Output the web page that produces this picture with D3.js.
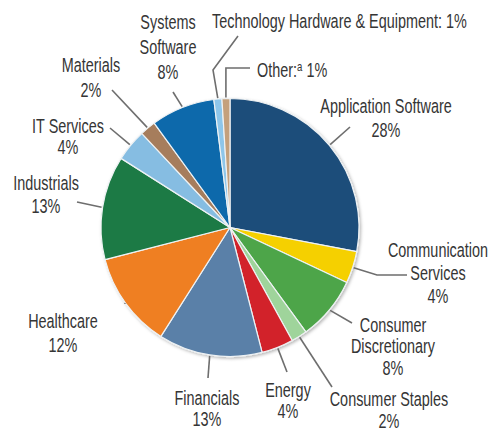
<!DOCTYPE html>
<html>
<head>
<meta charset="utf-8">
<script src="https://cdn.jsdelivr.net/npm/d3@7"></script>
<style>
  html, body { margin: 0; padding: 0; background: #fff; }
  svg { display: block; }
  .lbl { font-family: "Liberation Sans", Arial, sans-serif; font-size: 19.5px; fill: #353535; }
  .leader { fill: none; stroke: #6e6e6e; stroke-width: 1.6; }
</style>
</head>
<body>
<svg id="chart" width="494" height="433"></svg>
<script>
// Sector weights (%), clockwise from 12 o'clock
const sectors = [
  "Application Software", "Communication Services", "Consumer Discretionary",
  "Consumer Staples", "Energy", "Financials", "Healthcare", "Industrials",
  "IT Services", "Materials", "Systems Software",
  "Technology Hardware & Equipment", "Other"
];
const shares = [28, 4, 8, 2, 4, 13, 12, 13, 4, 2, 8, 1, 1];
const colors = [
  "#1f4e7a", "#f5d000", "#4ea54a", "#9fd49b", "#d2232a", "#5a80a8",
  "#ef7f22", "#1b7a44", "#86bde2", "#a67d5b", "#0c69ab", "#8ec6ea", "#c4a07c"
];
// Label text lines per sector ("{v}" is replaced by the share)
const labelLines = [
  ["Application Software", "{v}%"],
  ["Communication", "Services", "{v}%"],
  ["Consumer", "Discretionary", "{v}%"],
  ["Consumer Staples", "{v}%"],
  ["Energy", "{v}%"],
  ["Financials", "{v}%"],
  ["Healthcare", "{v}%"],
  ["Industrials", "{v}%"],
  ["IT Services", "{v}%"],
  ["Materials", "{v}%"],
  ["Systems", "Software", "{v}%"],
  ["Technology Hardware & Equipment: {v}%"],
  ["Other:ª {v}%"]
];

const svg = d3.select("#chart");
const cx = 230, cy = 227.5, R = 129;
const narrow = 0.74; // horizontal squeeze for a condensed look

const defs = svg.append("defs");
const f = defs.append("filter").attr("id", "shadow")
  .attr("x", "-10%").attr("y", "-10%").attr("width", "120%").attr("height", "120%");
f.append("feDropShadow").attr("dx", 1.5).attr("dy", 1.5).attr("stdDeviation", 1.8)
  .attr("flood-color", "#000").attr("flood-opacity", 0.28);

const pie = d3.pie().sort(null).value(d => d.v);
const data = sectors.map((s, i) => ({ name: s, v: shares[i], color: colors[i], lines: labelLines[i] }));
const arcs = pie(data);
const arc = d3.arc().innerRadius(0).outerRadius(R);

const g = svg.append("g").attr("transform", `translate(${cx},${cy})`);
g.append("g").attr("filter", "url(#shadow)")
  .selectAll("path").data(arcs).join("path")
  .attr("d", arc)
  .attr("fill", d => d.data.color)
  .attr("stroke", "#eef2f4")
  .attr("stroke-width", 1.2)
  .attr("stroke-linejoin", "round");

// Label placement: first baseline of the text block and leader route
const layout = [
  { x: 386, y: 113, lh: 24, anchor: "middle", leader: (p) => [p, [350, 127]] },
  { x: 438, y: 257, lh: 23, anchor: "middle", leader: (p) => [p, [377, 275], [407, 275]] },
  { x: 393, y: 332, lh: 21.5, anchor: "middle", leader: (p) => [p, [352, 323]] },
  { x: 389, y: 406, lh: 22, anchor: "middle", leader: (p) => [p, [332, 387]] },
  { x: 288, y: 397, lh: 21, anchor: "middle", leader: (p) => [p, [287, 372]] },
  { x: 207, y: 405, lh: 21, anchor: "middle", leader: (p) => [p, [208, 378]] },
  { x: 63, y: 328, lh: 24, anchor: "middle", leader: (p) => [p, [125, 303]] },
  { x: 46, y: 190, lh: 23, anchor: "middle", leader: (p) => [p, [77, 202]] },
  { x: 68, y: 133, lh: 21.5, anchor: "middle", leader: (p) => [p, [110, 128]] },
  { x: 91, y: 72, lh: 25, anchor: "middle", leader: (p) => [p, [112, 90]] },
  { x: 168, y: 29, lh: 25, anchor: "middle", leader: (p) => [p, [173, 92]] },
  { x: 212, y: 28, lh: 0, anchor: "start", leader: (p) => [p, [213, 70], [238, 36]] },
  { x: 257, y: 77, lh: 0, anchor: "start", leader: (p) => [p, [p[0], 68], [250, 68]] }
];

const line = d3.line();
arcs.forEach((a, i) => {
  const L = layout[i];
  const mid = (a.startAngle + a.endAngle) / 2;
  const edge = [cx + Math.sin(mid) * (R + 1), cy - Math.cos(mid) * (R + 1)];
  svg.append("path").attr("class", "leader").attr("d", line(L.leader(edge)));
  const t = svg.append("g")
    .attr("transform", `translate(${L.x},${L.y}) scale(${narrow},1)`)
    .append("text").attr("class", "lbl").attr("text-anchor", L.anchor);
  a.data.lines.forEach((ln, k) => {
    const s = ln.replace("{v}", a.data.v);
    const ts = t.append("tspan").attr("x", 0).attr("y", k * L.lh);
    if (s.includes("ª")) {
      const [pre, post] = s.split("ª");
      ts.text(pre);
      t.append("tspan").attr("font-size", "13px").attr("dy", -6).text("a");
      t.append("tspan").attr("dy", 6).text(post);
    } else {
      ts.text(s);
    }
  });
});
</script>
</body>
</html>
